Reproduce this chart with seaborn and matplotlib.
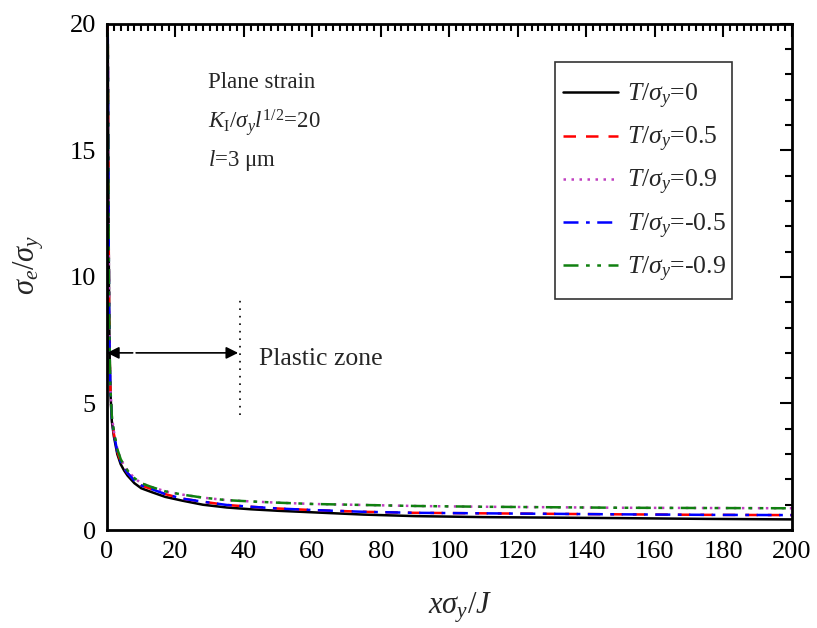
import numpy as np
import pandas as pd
import matplotlib
matplotlib.use("Agg")
import matplotlib.pyplot as plt
from matplotlib.patches import Rectangle
import seaborn as sns

# Normalised distance ahead of the crack tip, x*sigma_y/J
x_norm = [0.05, 0.2, 0.4, 0.6, 0.8, 1.0, 1.4, 2, 3, 4, 5, 6, 8, 10, 13, 17,
          22, 28, 35, 42, 50, 60, 75, 90, 110, 130, 150, 175, 200]

# Effective stress sigma_e/sigma_y for each T-stress level
s_t0 = [25, 20, 13.5, 8.8, 6.6, 5.4, 4.3, 3.7, 3.0, 2.6, 2.35, 2.15, 1.85,
        1.65, 1.50, 1.31, 1.16, 1.00, 0.89, 0.82, 0.76, 0.70, 0.61, 0.55,
        0.51, 0.49, 0.47, 0.44, 0.42]
s_tp05 = [25, 20, 13.5, 8.9, 6.7, 5.5, 4.4, 3.8, 3.1, 2.7, 2.45, 2.25, 1.95,
          1.76, 1.62, 1.42, 1.24, 1.12, 0.99, 0.92, 0.85, 0.79, 0.72, 0.68,
          0.66, 0.64, 0.62, 0.60, 0.59]
s_tp09 = [25, 20, 13.6, 9.0, 6.8, 5.6, 4.5, 3.9, 3.2, 2.8, 2.55, 2.35, 2.05,
          1.85, 1.70, 1.53, 1.40, 1.28, 1.18, 1.13, 1.08, 1.03, 0.99, 0.95,
          0.92, 0.90, 0.88, 0.87, 0.86]
s_tm05 = [25, 20, 13.5, 8.9, 6.7, 5.5, 4.4, 3.8, 3.1, 2.7, 2.45, 2.25, 1.95,
          1.76, 1.62, 1.42, 1.24, 1.12, 0.99, 0.92, 0.85, 0.79, 0.72, 0.68,
          0.66, 0.64, 0.62, 0.60, 0.59]
s_tm09 = [25, 20, 13.6, 9.0, 6.8, 5.6, 4.5, 3.9, 3.2, 2.8, 2.55, 2.35, 2.05,
          1.85, 1.70, 1.53, 1.40, 1.28, 1.18, 1.13, 1.08, 1.03, 0.99, 0.95,
          0.92, 0.90, 0.88, 0.87, 0.86]

labels = [r"$T/\sigma_y$=0", r"$T/\sigma_y$=0.5", r"$T/\sigma_y$=0.9",
          r"$T/\sigma_y$=-0.5", r"$T/\sigma_y$=-0.9"]
series = [s_t0, s_tp05, s_tp09, s_tm05, s_tm09]
colors = ["black", "#ff0000", "#c040c0", "#0000ff", "#108010"]
dash_patterns = [None, (5, 4), (1, 2.2), (6, 3, 1.5, 3), (6, 3, 1.5, 3, 1.5, 3)]

plastic_zone_end = 38.8
plastic_arrow_y = 7.0

sns.set_style("white")
plt.rcParams["font.family"] = ["Liberation Serif", "DejaVu Serif"]
plt.rcParams["mathtext.fontset"] = "custom"
plt.rcParams["mathtext.rm"] = "Liberation Serif"
plt.rcParams["mathtext.it"] = "Liberation Serif:italic"
plt.rcParams["mathtext.bf"] = "Liberation Serif:bold"

rows = []
for lab, ys in zip(labels, series):
    for xv, yv in zip(x_norm, ys):
        rows.append({"x": xv, "y": yv, "case": lab})
df = pd.DataFrame(rows)

fig = plt.figure(figsize=(8.17, 6.28), dpi=100)
ax = fig.add_axes([0.131, 0.156, 0.838, 0.806])

for lab, col, dp in zip(labels, colors, dash_patterns):
    sub = df[df["case"] == lab]
    sns.lineplot(data=sub, x="x", y="y", ax=ax, color=col, lw=1.8,
                 label=lab, estimator=None, sort=True)
    line = ax.get_lines()[-1]
    if dp is not None:
        line.set_dashes(dp)

ax.set_xlim(0, 200)
ax.set_ylim(0, 20)
ax.set_xticks(np.arange(0, 201, 20))
ax.set_yticks(np.arange(0, 21, 5))
ax.set_xticks(np.arange(0, 201, 2), minor=True)
ax.set_yticks(np.arange(0, 21, 1), minor=True)
ax.tick_params(which="both", direction="in", top=True, right=True,
               labelsize=19, width=1.5, colors="black", pad=8)
ax.tick_params(which="major", length=9)
ax.tick_params(which="minor", length=5)
for sp in ax.spines.values():
    sp.set_linewidth(2)
    sp.set_color("black")

ax.set_xlabel(r"$x\sigma_y/J$", fontsize=22)
ax.set_ylabel(r"$\sigma_e/\sigma_y$", fontsize=22)
ax.xaxis.set_label_coords(0.516, -0.12)
ax.yaxis.set_label_coords(-0.089, 0.523)

# Plastic zone extent
ax.annotate("", xy=(0, plastic_arrow_y), xytext=(7.5, plastic_arrow_y),
            arrowprops=dict(arrowstyle="-|>", color="black", lw=1.2,
                            mutation_scale=18, shrinkA=0, shrinkB=0))
ax.annotate("", xy=(plastic_zone_end - 0.5, plastic_arrow_y),
            xytext=(8.5, plastic_arrow_y),
            arrowprops=dict(arrowstyle="-|>", color="black", lw=1.2,
                            mutation_scale=18, shrinkA=0, shrinkB=0))
ax.plot([plastic_zone_end, plastic_zone_end], [4.55, 9.3], color="black",
        lw=1.2, linestyle=(0, (1, 3.5)))
ax.text(44.5, 6.75, "Plastic zone", fontsize=18.5, va="center", ha="left")

ax.text(29.5, 17.7, "Plane strain", fontsize=16.5, va="center", ha="left")
ax.text(29.5, 16.1, r"$K_{\mathrm{I}}/\sigma_y l^{\mathrm{1/2}}$=20",
        fontsize=16.5, va="center", ha="left")
ax.text(29.5, 14.6, r"$l$=3 μm", fontsize=16.5, va="center", ha="left")

# Legend entries with a separately drawn frame
leg = ax.legend(loc="center left", bbox_to_anchor=(0.666, 0.686),
                fontsize=18.5, frameon=False, handlelength=2.15,
                handletextpad=0.35, labelspacing=0.55, borderpad=0,
                borderaxespad=0)
ax.add_patch(Rectangle((0.6544, 0.4563), 0.2585, 0.4682,
                       transform=ax.transAxes, fill=False,
                       edgecolor="#333333", lw=1.2, zorder=5))

fig.savefig("out.png", dpi=100)
